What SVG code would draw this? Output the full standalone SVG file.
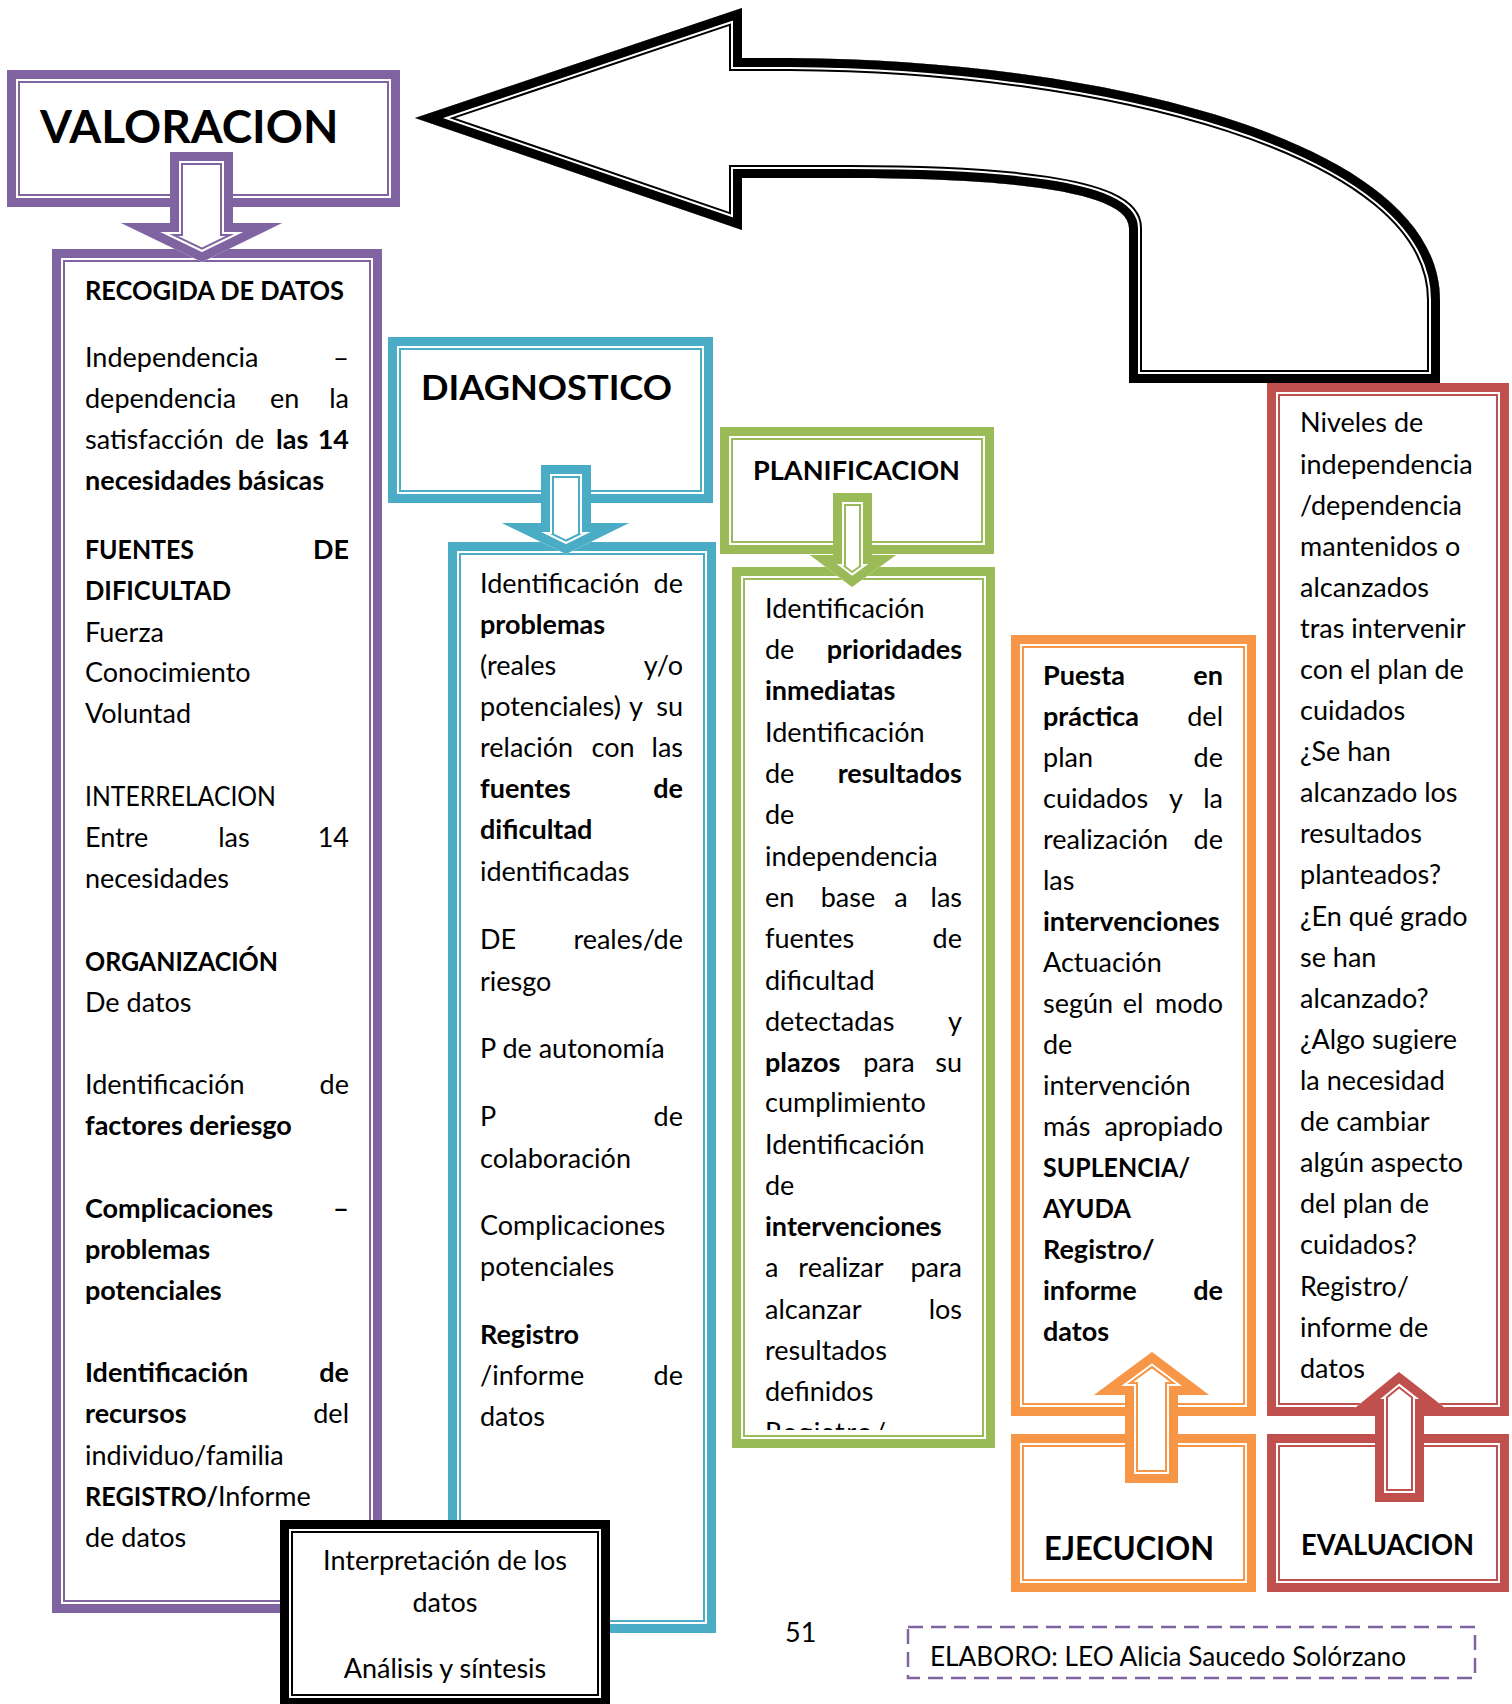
<svg xmlns="http://www.w3.org/2000/svg" xmlns:xlink="http://www.w3.org/1999/xlink" width="1512" height="1704" viewBox="0 0 1512 1704">
<style>
.o{fill:#fff;stroke-width:9}
.i{fill:none;stroke-width:2}
.P{stroke:#8064A2}.B{stroke:#4BACC6}.G{stroke:#9BBB59}.O{stroke:#F79646}.R{stroke:#C0504D}.K{stroke:#000}
.f{fill:#fff;stroke-width:26}
.w{fill:none;stroke:#fff;stroke-width:22}
.n{fill:none;stroke-width:18}
text{font-family:Lato,"Liberation Sans",sans-serif;font-size:27px;fill:#000}
.b{font-weight:bold}
.e{text-anchor:end}
.m{text-anchor:middle}
</style>
<defs>
<path id="a1" d="M170,152H233V223H282L202,262L121,223H170Z"/>
<path id="a2" d="M541,465H591V523H629L566,554L502,523H541Z"/>
<path id="a3" d="M833,493H872V555H896L852,587L810,555H833Z"/>
<path id="a4" d="M1125,1483V1395H1094L1152,1352L1209,1395H1178V1483Z"/>
<path id="a5" d="M1375,1502V1408H1355L1399,1372L1445,1408H1424V1502Z"/>
<path id="a6" d="M742,8V58H790C1100,60 1440,140 1440,300V383H1129V228C1129,190 1000,178 850,178H742V230L415,118Z"/>
<clipPath id="c1"><use href="#a1"/></clipPath>
<clipPath id="c2"><use href="#a2"/></clipPath>
<clipPath id="c3"><use href="#a3"/></clipPath>
<clipPath id="c4"><use href="#a4"/></clipPath>
<clipPath id="c5"><use href="#a5"/></clipPath>
<clipPath id="c6"><use href="#a6"/></clipPath>
<clipPath id="cp"><rect x="744" y="579" width="239" height="851"/></clipPath>
</defs>
<rect width="1512" height="1704" fill="#fff"/>

<g id="valoracion">
<rect class="o P" x="11.5" y="74.5" width="384" height="128"/>
<rect class="i P" x="19" y="82" width="369" height="113"/>
<text class="b" x="40" y="143" style="font-size:46px">VALORACION</text>
</g>

<g id="recogida">
<rect class="o P" x="56.5" y="253.5" width="321" height="1355"/>
<rect class="i P" x="64" y="261" width="306" height="1340"/>
<text class="b" x="85" y="300" textLength="259" lengthAdjust="spacingAndGlyphs">RECOGIDA DE DATOS</text>
<text x="85" y="367">Independencia</text><text x="333" y="367" textLength="16" lengthAdjust="spacingAndGlyphs">–</text>
<text x="85" y="408">dependencia</text><text x="270" y="408">en</text><text class="e" x="349" y="408">la</text>
<text x="85" y="449">satisfacción</text><text x="235" y="449">de</text><text class="b" x="276" y="449">las</text><text class="b e" x="349" y="449">14</text>
<text class="b" x="85" y="490">necesidades básicas</text>
<text class="b" x="85" y="559" textLength="109" lengthAdjust="spacingAndGlyphs">FUENTES</text><text class="b e" x="349" y="559">DE</text>
<text class="b" x="85" y="600" textLength="146" lengthAdjust="spacingAndGlyphs">DIFICULTAD</text>
<text x="85" y="642">Fuerza</text>
<text x="85" y="682">Conocimiento</text>
<text x="85" y="723">Voluntad</text>
<text x="85" y="806" textLength="191" lengthAdjust="spacingAndGlyphs">INTERRELACION</text>
<text x="85" y="847">Entre</text><text class="m" x="234" y="847">las</text><text class="e" x="349" y="847">14</text>
<text x="85" y="888">necesidades</text>
<text class="b" x="85" y="971" textLength="193" lengthAdjust="spacingAndGlyphs">ORGANIZACIÓN</text>
<text x="85" y="1012">De datos</text>
<text x="85" y="1094">Identificación</text><text class="e" x="349" y="1094">de</text>
<text class="b" x="85" y="1135">factores deriesgo</text>
<text class="b" x="85" y="1218">Complicaciones</text><text class="b" x="333" y="1218" textLength="16" lengthAdjust="spacingAndGlyphs">–</text>
<text class="b" x="85" y="1259">problemas</text>
<text class="b" x="85" y="1300">potenciales</text>
<text class="b" x="85" y="1382">Identificación</text><text class="b e" x="349" y="1382">de</text>
<text class="b" x="85" y="1423">recursos</text><text class="e" x="349" y="1423">del</text>
<text x="85" y="1465">individuo/familia</text>
<text class="b" x="85" y="1506" textLength="133" lengthAdjust="spacingAndGlyphs">REGISTRO/</text><text x="218" y="1506">Informe</text>
<text x="85" y="1547">de datos</text>
</g>

<g id="diagnostico">
<rect class="o B" x="392.5" y="341.5" width="316" height="157"/>
<rect class="i B" x="400" y="349" width="301" height="142"/>
<text class="b" x="421" y="400" style="font-size:35px" textLength="251" lengthAdjust="spacingAndGlyphs">DIAGNOSTICO</text>
</g>

<g id="diagnostico-detalle">
<rect class="o B" x="452.5" y="546.5" width="259" height="1082"/>
<rect class="i B" x="460" y="554" width="244" height="1067"/>
<text x="480" y="593">Identificación</text><text class="e" x="683" y="593">de</text>
<text class="b" x="480" y="634">problemas</text>
<text x="480" y="675">(reales</text><text class="e" x="683" y="675">y/o</text>
<text x="480" y="716">potenciales)</text><text class="m" x="636" y="716">y</text><text class="e" x="683" y="716">su</text>
<text x="480" y="757">relación</text><text class="m" x="613" y="757">con</text><text class="e" x="683" y="757">las</text>
<text class="b" x="480" y="798">fuentes</text><text class="b e" x="683" y="798">de</text>
<text class="b" x="480" y="839">dificultad</text>
<text x="480" y="881">identificadas</text>
<text x="480" y="949">DE</text><text class="e" x="683" y="949">reales/de</text>
<text x="480" y="991">riesgo</text>
<text x="480" y="1058">P de autonomía</text>
<text x="480" y="1126">P</text><text class="e" x="683" y="1126">de</text>
<text x="480" y="1168">colaboración</text>
<text x="480" y="1235">Complicaciones</text>
<text x="480" y="1276">potenciales</text>
<text class="b" x="480" y="1344">Registro</text>
<text x="480" y="1385">/informe</text><text class="e" x="683" y="1385">de</text>
<text x="480" y="1426">datos</text>
</g>

<g id="planificacion">
<rect class="o G" x="724.5" y="431.5" width="265" height="118"/>
<rect class="i G" x="732" y="439" width="250" height="103"/>
<text class="b" x="753" y="480" style="font-size:27.5px" textLength="207" lengthAdjust="spacingAndGlyphs">PLANIFICACION</text>
</g>

<g id="planificacion-detalle">
<rect class="o G" x="736.5" y="571.5" width="254" height="872"/>
<rect class="i G" x="744" y="579" width="239" height="857"/>
<text x="765" y="618">Identificación</text>
<text x="765" y="659">de</text><text class="b e" x="962" y="659">prioridades</text>
<text class="b" x="765" y="700">inmediatas</text>
<text x="765" y="742">Identificación</text>
<text x="765" y="783">de</text><text class="b e" x="962" y="783">resultados</text>
<text x="765" y="824">de</text>
<text x="765" y="866">independencia</text>
<text x="765" y="907">en</text><text class="m" x="848" y="907">base</text><text class="m" x="901" y="907">a</text><text class="e" x="962" y="907">las</text>
<text x="765" y="948">fuentes</text><text class="e" x="962" y="948">de</text>
<text x="765" y="990">dificultad</text>
<text x="765" y="1031">detectadas</text><text class="e" x="962" y="1031">y</text>
<text class="b" x="765" y="1072">plazos</text><text class="m" x="889" y="1072">para</text><text class="e" x="962" y="1072">su</text>
<text x="765" y="1112">cumplimiento</text>
<text x="765" y="1154">Identificación</text>
<text x="765" y="1195">de</text>
<text class="b" x="765" y="1236">intervenciones</text>
<text x="765" y="1277">a</text><text class="m" x="841" y="1277">realizar</text><text class="e" x="962" y="1277">para</text>
<text x="765" y="1319">alcanzar</text><text class="e" x="962" y="1319">los</text>
<text x="765" y="1360">resultados</text>
<text x="765" y="1401">definidos</text>
<text x="765" y="1442" clip-path="url(#cp)" style="letter-spacing:1.5px">Registro/</text>
</g>

<g id="ejecucion-detalle">
<rect class="o O" x="1015.5" y="639.5" width="236" height="772"/>
<rect class="i O" x="1023" y="647" width="221" height="757"/>
<text class="b" x="1043" y="685">Puesta</text><text class="b e" x="1223" y="685">en</text>
<text class="b" x="1043" y="726">práctica</text><text class="e" x="1223" y="726">del</text>
<text x="1043" y="767">plan</text><text class="e" x="1223" y="767">de</text>
<text x="1043" y="808">cuidados</text><text class="m" x="1176" y="808">y</text><text class="e" x="1223" y="808">la</text>
<text x="1043" y="849">realización</text><text class="e" x="1223" y="849">de</text>
<text x="1043" y="890">las</text>
<text class="b" x="1043" y="931">intervenciones</text>
<text x="1043" y="972">Actuación</text>
<text x="1043" y="1013">según</text><text class="m" x="1133" y="1013">el</text><text class="e" x="1223" y="1013">modo</text>
<text x="1043" y="1054">de</text>
<text x="1043" y="1095">intervención</text>
<text x="1043" y="1136">más</text><text class="e" x="1223" y="1136">apropiado</text>
<text class="b" x="1043" y="1177" textLength="147" lengthAdjust="spacingAndGlyphs">SUPLENCIA/</text>
<text class="b" x="1043" y="1218" textLength="88" lengthAdjust="spacingAndGlyphs">AYUDA</text>
<text class="b" x="1043" y="1259">Registro/</text>
<text class="b" x="1043" y="1300">informe</text><text class="b e" x="1223" y="1300">de</text>
<text class="b" x="1043" y="1341">datos</text>
</g>

<g id="ejecucion">
<rect class="o O" x="1015.5" y="1438.5" width="236" height="149"/>
<rect class="i O" x="1023" y="1446" width="221" height="134"/>
<text class="b" x="1044" y="1560" style="font-size:32px" textLength="170" lengthAdjust="spacingAndGlyphs">EJECUCION</text>
</g>

<g id="evaluacion-detalle">
<rect class="o R" x="1271.5" y="387.5" width="233" height="1024"/>
<rect class="i R" x="1279" y="395" width="218" height="1009"/>
<text x="1300" y="432">Niveles de</text>
<text x="1300" y="474">independencia</text>
<text x="1300" y="515">/dependencia</text>
<text x="1300" y="556">mantenidos o</text>
<text x="1300" y="597">alcanzados</text>
<text x="1300" y="638">tras intervenir</text>
<text x="1300" y="679">con el plan de</text>
<text x="1300" y="720">cuidados</text>
<text x="1300" y="761">¿Se han</text>
<text x="1300" y="802">alcanzado los</text>
<text x="1300" y="843">resultados</text>
<text x="1300" y="884">planteados?</text>
<text x="1300" y="926">¿En qué grado</text>
<text x="1300" y="967">se han</text>
<text x="1300" y="1008">alcanzado?</text>
<text x="1300" y="1049">¿Algo sugiere</text>
<text x="1300" y="1090">la necesidad</text>
<text x="1300" y="1131">de cambiar</text>
<text x="1300" y="1172">algún aspecto</text>
<text x="1300" y="1213">del plan de</text>
<text x="1300" y="1254">cuidados?</text>
<text x="1300" y="1296">Registro/</text>
<text x="1300" y="1337">informe de</text>
<text x="1300" y="1378">datos</text>
</g>

<g id="evaluacion">
<rect class="o R" x="1271.5" y="1438.5" width="233" height="149"/>
<rect class="i R" x="1279" y="1446" width="218" height="134"/>
<text class="b" x="1301" y="1555" style="font-size:28px" textLength="173" lengthAdjust="spacingAndGlyphs">EVALUACION</text>
</g>

<g id="interpretacion">
<rect class="o K" x="284.5" y="1524.5" width="321" height="178"/>
<rect class="i K" x="292" y="1532" width="306" height="163"/>
<text class="m" x="445" y="1570">Interpretación de los</text>
<text class="m" x="445" y="1612">datos</text>
<text class="m" x="445" y="1678">Análisis y síntesis</text>
</g>

<g id="connectors">
<g clip-path="url(#c1)"><use href="#a1" class="f P"/><use href="#a1" class="w"/><use href="#a1" class="n P"/></g>
<g clip-path="url(#c2)"><use href="#a2" class="f B"/><use href="#a2" class="w"/><use href="#a2" class="n B"/></g>
<g clip-path="url(#c3)"><use href="#a3" class="f G"/><use href="#a3" class="w"/><use href="#a3" class="n G"/></g>
<g clip-path="url(#c4)"><use href="#a4" class="f O"/><use href="#a4" class="w"/><use href="#a4" class="n O"/></g>
<g clip-path="url(#c5)"><use href="#a5" class="f R"/><use href="#a5" class="w"/><use href="#a5" class="n R"/></g>
<g clip-path="url(#c6)"><use href="#a6" class="f K"/><use href="#a6" class="w"/><use href="#a6" class="n K"/></g>
</g>

<g id="footer">
<text x="785" y="1642">51</text>
<rect x="908" y="1627" width="567" height="51" fill="none" stroke="#8064A2" stroke-width="2.5" stroke-dasharray="15 8"/>
<text x="930" y="1666" textLength="476" lengthAdjust="spacingAndGlyphs">ELABORO: LEO Alicia Saucedo Solórzano</text>
</g>
</svg>
